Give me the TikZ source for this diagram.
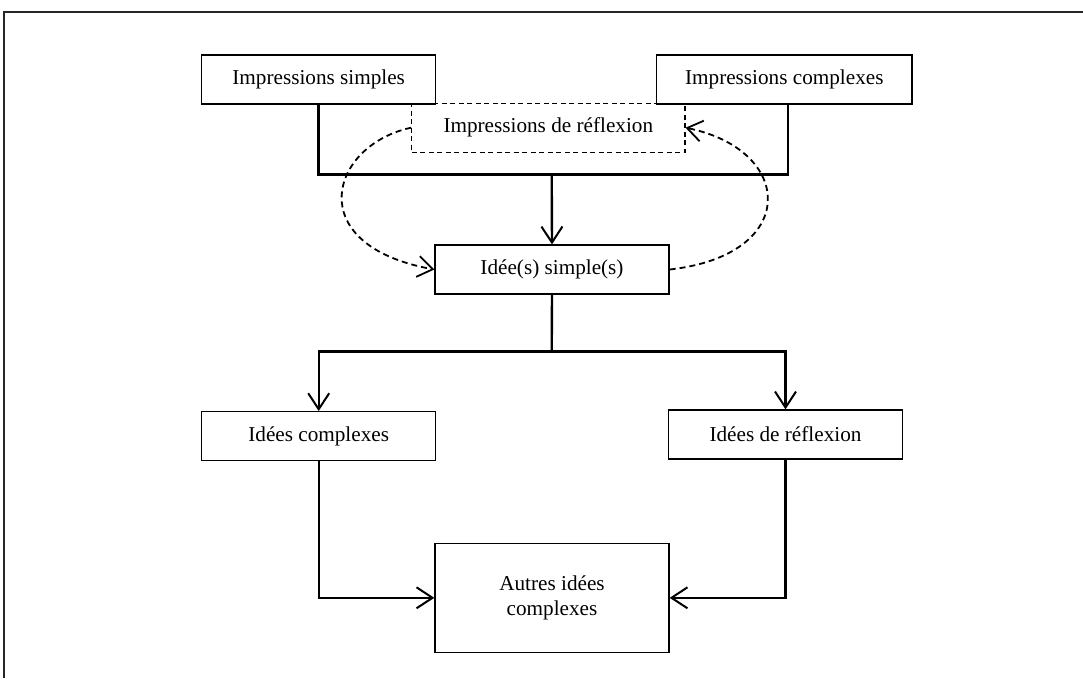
\documentclass[tikz,border=0pt]{standalone}
\usepackage{fontspec}
\setmainfont{Liberation Serif}
\usetikzlibrary{arrows.meta}
\begin{document}
\begin{tikzpicture}[x=1pt,y=-1pt,
  box/.style={draw, line width=1.3pt, inner sep=0pt, align=center,
    font=\fontsize{21.2}{25}\selectfont},
  dbox/.style={box, line width=1.1pt, dashed, dash pattern=on 5pt off 3.5pt},
  conn/.style={line width=2.4pt},
  arr/.style={conn, -{Straight Barb[length=16pt,width=21pt,line width=2pt]}},
  darr/.style={line width=1.8pt, dash pattern=on 6pt off 4pt,
    -{Straight Barb[length=15pt,width=21pt,line width=1.8pt]}}]
\useasboundingbox (0,0) rectangle (1083,678);
% frame
\draw[line width=2pt, black!85] (1083,12) -- (4,12) -- (4,678);
% nodes
\node[box, minimum width=234pt, minimum height=49pt] (is) at (318.7,79.5) {Impressions simples};
\node[box, minimum width=255.3pt, minimum height=49pt] (ic) at (784.3,79.5) {Impressions complexes};
\node[dbox, minimum width=273.3pt, minimum height=49.3pt] (ref) at (548.3,127.7) {Impressions de réflexion};
\node[box, minimum width=234pt, minimum height=49pt] (iss) at (552,269.5) {Idée(s) simple(s)};
\node[box, minimum width=234pt, minimum height=49pt] (icx) at (318.7,436.2) {Idées complexes};
\node[box, minimum width=234.4pt, minimum height=49pt] (ir) at (785.5,434.5) {Idées de réflexion};
\node[box, minimum width=234pt, minimum height=109pt] (aut) at (552,597.8) {Autres idées\\complexes};
% junctions
\coordinate (jl) at (318.3,174.3);
\coordinate (jr) at (787.7,174.3);
\coordinate (jm) at (551.7,174.3);
\coordinate (sp) at (551.7,351.5);
% upper bracket
\draw[conn] (is.south -| jl) -- (jl) -- (jr) -- (ic.south -| jr);
\draw[arr] (jm) -- (iss.north);
% split
\draw[conn] (iss.south) -- (sp);
\draw[arr] (sp) -| (icx.north);
\draw[arr] (sp) -| (ir.north);
% to Autres
\draw[arr] (icx.south) |- (aut.west);
\draw[arr] (ir.south) |- (aut.east);
% dashed loops
\draw[darr] (ref.west) .. controls (330,145) and (300,245) .. (iss.west);
\draw[darr] (iss.east) .. controls (800,255) and (795,150) .. (ref.east);
\end{tikzpicture}
\end{document}
